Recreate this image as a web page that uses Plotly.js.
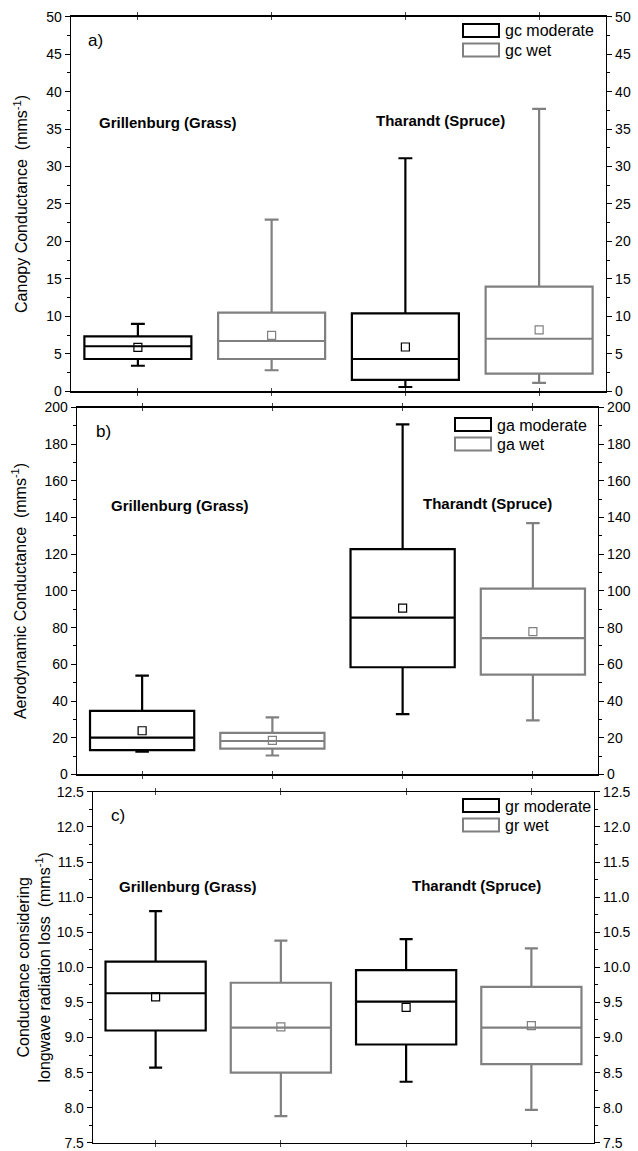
<!DOCTYPE html>
<html>
<head>
<meta charset="utf-8">
<script src="https://cdn.plot.ly/plotly-3.0.1.min.js"></script>
<style>html,body{margin:0;padding:0;background:#fff}#chart{width:638px;height:1151px}</style>
</head>
<body>
<div id="chart"></div>
<script>
// ---------- data ----------
const sites = ['Grillenburg (Grass)', 'Tharandt (Spruce)'];
const posModerate = [1, 3];
const posWet = [2, 4];

// a) canopy conductance gc (mm s-1)
const gcModLower = [3.4, 0.56];
const gcModQ1 = [4.3, 1.5];
const gcModMedian = [6.0, 4.3];
const gcModQ3 = [7.33, 10.4];
const gcModUpper = [9.0, 31.1];
const gcModMean = [5.85, 5.9];

const gcWetLower = [2.8, 1.1];
const gcWetQ1 = [4.3, 2.35];
const gcWetMedian = [6.7, 7.0];
const gcWetQ3 = [10.5, 13.95];
const gcWetUpper = [22.9, 37.7];
const gcWetMean = [7.45, 8.2];

// b) aerodynamic conductance ga (mm s-1)
const gaModLower = [12.4, 32.9];
const gaModQ1 = [13.2, 58.4];
const gaModMedian = [20.1, 85.5];
const gaModQ3 = [34.6, 122.8];
const gaModUpper = [53.8, 190.8];
const gaModMean = [23.8, 90.6];

const gaWetLower = [10.3, 29.4];
const gaWetQ1 = [14.1, 54.4];
const gaWetMedian = [18.2, 74.3];
const gaWetQ3 = [22.6, 101.3];
const gaWetUpper = [31.1, 137.0];
const gaWetMean = [18.5, 77.8];

// c) conductance considering longwave radiation loss gr (mm s-1)
const grModLower = [8.57, 8.37];
const grModQ1 = [9.10, 8.90];
const grModMedian = [9.63, 9.51];
const grModQ3 = [10.08, 9.96];
const grModUpper = [10.80, 10.40];
const grModMean = [9.58, 9.43];

const grWetLower = [7.88, 7.97];
const grWetQ1 = [8.50, 8.62];
const grWetMedian = [9.14, 9.14];
const grWetQ3 = [9.78, 9.72];
const grWetUpper = [10.38, 10.27];
const grWetMean = [9.15, 9.17];

const seriesNames = [['gc moderate', 'gc wet'], ['ga moderate', 'ga wet'], ['gr moderate', 'gr wet']];
const panelLetters = ['a)', 'b)', 'c)'];
const yTitles = [
  'Canopy Conductance  (mms<sup>-1</sup>)',
  'Aerodynamic Conductance  (mms<sup>-1</sup>)',
  'Conductance considering<br>longwave radiation loss  (mms<sup>-1</sup>)'
];
const yRanges = [[0, 50], [0, 200], [7.5, 12.5]];
const yDticks = [5, 20, 0.5];
const yFormats = ['', '', '.1f'];

// ---------- styling / layout ----------
const W = 638, H = 1151;
const px = v => v / W;
const py = v => 1 - v / H;
const BLACK = '#000000';
const GREY = 'rgb(128,128,128)';
const FONT = 'Liberation Sans, Arial, sans-serif';

// plot-area pixel boxes [left, right, top, bottom]
const boxesPx = [[71, 606, 16.7, 391.2], [77, 598, 407.5, 774.4], [93, 594, 791.8, 1142.8]];
const titleStandoff = [14, 14, 2];

const traces = [];
const layout = {
  width: W, height: H,
  margin: {l: 0, r: 0, t: 0, b: 0},
  paper_bgcolor: '#fff', plot_bgcolor: '#fff',
  showlegend: false,
  font: {family: FONT, color: '#000', size: 14},
  shapes: [], annotations: []
};

const stats = [
  [[gcModLower, gcModQ1, gcModMedian, gcModQ3, gcModUpper, gcModMean],
   [gcWetLower, gcWetQ1, gcWetMedian, gcWetQ3, gcWetUpper, gcWetMean]],
  [[gaModLower, gaModQ1, gaModMedian, gaModQ3, gaModUpper, gaModMean],
   [gaWetLower, gaWetQ1, gaWetMedian, gaWetQ3, gaWetUpper, gaWetMean]],
  [[grModLower, grModQ1, grModMedian, grModQ3, grModUpper, grModMean],
   [grWetLower, grWetQ1, grWetMedian, grWetQ3, grWetUpper, grWetMean]]
];

// text placement per panel (pixels)
const letterPos = [[95, 40], [103, 431], [118, 815]];
const grillPos = [[168, 122], [180, 505], [188, 886]];
const tharPos = [[440, 121], [487, 504], [476, 885]];
const legendPos = [[463, 24], [455, 418], [463, 799]];

for (let p = 0; p < 3; p++) {
  const n = p + 1;
  const xa = n === 1 ? 'x' : 'x' + n;
  const ya = n === 1 ? 'y' : 'y' + n;
  const yRightName = 'yaxis' + (n + 3);
  const [l, r, t, b] = boxesPx[p];
  const colors = [BLACK, GREY];
  const positions = [posModerate, posWet];

  for (let s = 0; s < 2; s++) {
    const [lo, q1, med, q3, up, mean] = stats[p][s];
    traces.push({
      type: 'box', name: seriesNames[p][s], xaxis: xa, yaxis: ya,
      x: positions[s], lowerfence: lo, q1: q1, median: med, q3: q3, upperfence: up,
      width: 0.8, whiskerwidth: 0.13, boxpoints: false,
      line: {color: colors[s], width: 2.2}, fillcolor: 'rgba(255,255,255,0)',
      hoverinfo: 'skip'
    });
    traces.push({
      type: 'scatter', mode: 'markers', name: seriesNames[p][s] + ' mean', xaxis: xa, yaxis: ya,
      x: positions[s], y: mean,
      marker: {symbol: 'square-open', size: 8, color: colors[s], line: {width: 1.2, color: colors[s]}},
      hoverinfo: 'skip'
    });
  }

  const xName = n === 1 ? 'xaxis' : 'xaxis' + n;
  const yName = n === 1 ? 'yaxis' : 'yaxis' + n;
  layout[xName] = {
    domain: [px(l), px(r)], anchor: ya, range: [0.5, 4.5],
    tickvals: [1, 2, 3, 4], showticklabels: false, ticks: 'inside', ticklen: 3,
    showline: true, linecolor: '#000', linewidth: 1.3, mirror: 'allticks',
    showgrid: false, zeroline: false, fixedrange: true
  };
  const yCommon = {
    range: yRanges[p], dtick: yDticks[p], tick0: yRanges[p][0], tickformat: yFormats[p],
    ticks: 'outside', ticklen: 5, tickcolor: '#000', tickwidth: 1,
    minor: {dtick: yDticks[p] / 2, ticks: 'outside', ticklen: 3, tickcolor: '#000'},
    showline: true, linecolor: '#000', linewidth: 1.3,
    showgrid: false, zeroline: false, fixedrange: true,
    tickfont: {size: 14, family: FONT, color: '#000'}
  };
  layout[yName] = Object.assign({}, yCommon, {
    domain: [py(b), py(t)], anchor: xa, side: 'left', mirror: true,
    title: {text: yTitles[p], font: {size: 16, family: FONT, color: '#000'}, standoff: titleStandoff[p]}
  });
  layout[yRightName] = Object.assign({}, yCommon, {
    overlaying: ya, anchor: xa, side: 'right'
  });
  // empty carrier so the right-hand axis is drawn
  traces.push({type: 'scatter', x: [], y: [], xaxis: xa, yaxis: 'y' + (n + 3), showlegend: false, hoverinfo: 'skip'});

  // panel letter and site labels
  layout.annotations.push({xref: 'paper', yref: 'paper', x: px(letterPos[p][0]), y: py(letterPos[p][1]),
    text: panelLetters[p], showarrow: false, font: {size: 17, family: FONT}, xanchor: 'center', yanchor: 'middle'});
  layout.annotations.push({xref: 'paper', yref: 'paper', x: px(grillPos[p][0]), y: py(grillPos[p][1]),
    text: '<b>' + sites[0] + '</b>', showarrow: false, font: {size: 15, family: FONT}, xanchor: 'center', yanchor: 'middle'});
  layout.annotations.push({xref: 'paper', yref: 'paper', x: px(tharPos[p][0]), y: py(tharPos[p][1]),
    text: '<b>' + sites[1] + '</b>', showarrow: false, font: {size: 15, family: FONT}, xanchor: 'center', yanchor: 'middle'});

  // legend
  const [lx, ly] = legendPos[p];
  for (let s = 0; s < 2; s++) {
    const y0 = ly + s * 19.5;
    layout.shapes.push({type: 'rect', xref: 'paper', yref: 'paper',
      x0: px(lx), x1: px(lx + 36), y0: py(y0), y1: py(y0 + 13),
      line: {color: colors[s], width: 2}, fillcolor: 'rgba(255,255,255,0)'});
    layout.annotations.push({xref: 'paper', yref: 'paper', x: px(lx + 40), y: py(y0 + 7),
      text: seriesNames[p][s], showarrow: false, font: {size: 16, family: FONT}, xanchor: 'left', yanchor: 'middle'});
  }
}

Plotly.newPlot('chart', traces, layout, {staticPlot: true, displayModeBar: false});
</script>
</body>
</html>
